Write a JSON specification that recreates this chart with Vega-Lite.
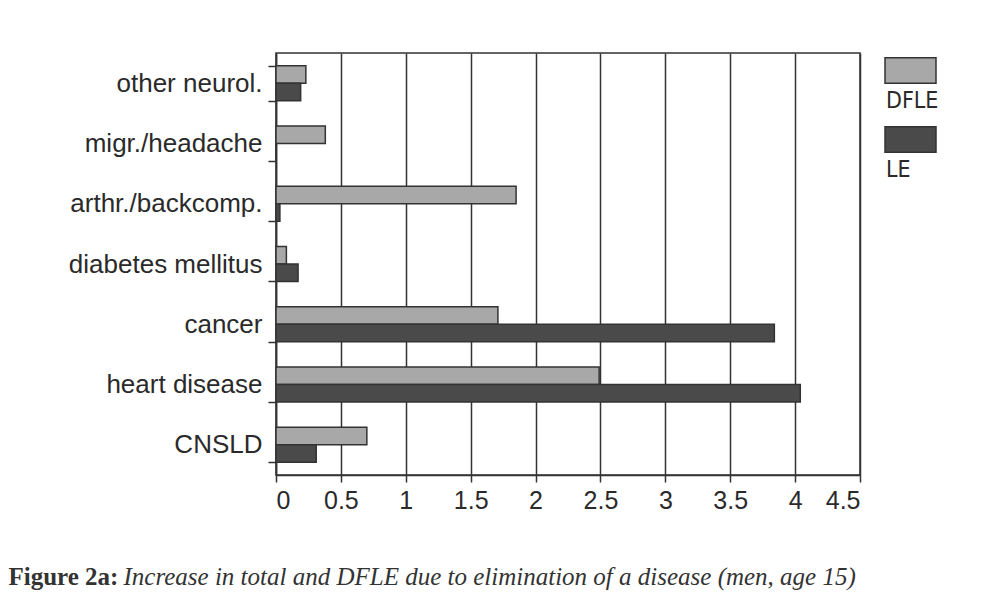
{
  "$schema": "https://vega.github.io/schema/vega-lite/v6.json",
  "width": 584,
  "height": 422,
  "autosize": {"type": "none"},
  "padding": {"left": 276, "top": 53, "right": 137, "bottom": 119},
  "background": "white",
  "config": {
    "view": {"stroke": "#333333", "strokeWidth": 1.5}
  },
  "data": {
    "values": [
      {"disease": "other neurol.", "measure": "DFLE", "value": 0.23},
      {"disease": "other neurol.", "measure": "LE", "value": 0.19},
      {"disease": "migr./headache", "measure": "DFLE", "value": 0.38},
      {"disease": "migr./headache", "measure": "LE", "value": 0.0},
      {"disease": "arthr./backcomp.", "measure": "DFLE", "value": 1.85},
      {"disease": "arthr./backcomp.", "measure": "LE", "value": 0.03},
      {"disease": "diabetes mellitus", "measure": "DFLE", "value": 0.08},
      {"disease": "diabetes mellitus", "measure": "LE", "value": 0.17},
      {"disease": "cancer", "measure": "DFLE", "value": 1.71},
      {"disease": "cancer", "measure": "LE", "value": 3.84},
      {"disease": "heart disease", "measure": "DFLE", "value": 2.49},
      {"disease": "heart disease", "measure": "LE", "value": 4.04},
      {"disease": "CNSLD", "measure": "DFLE", "value": 0.70},
      {"disease": "CNSLD", "measure": "LE", "value": 0.31}
    ]
  },
  "mark": {"type": "bar", "stroke": "#333333", "strokeWidth": 1.5},
  "encoding": {
    "y": {
      "field": "disease",
      "type": "nominal",
      "sort": ["other neurol.", "migr./headache", "arthr./backcomp.", "diabetes mellitus", "cancer", "heart disease", "CNSLD"],
      "scale": {"paddingInner": 0.42, "paddingOuter": 0.21},
      "axis": {
        "title": "Figure 2a:",
        "titleFont": "Liberation Serif",
        "titleFontSize": 25,
        "titleFontWeight": "bold",
        "titleColor": "#333333",
        "titleAngle": 0,
        "titleAlign": "left",
        "titleBaseline": "alphabetic",
        "titleX": -268,
        "titleY": 531,
        "domain": true,
        "domainColor": "#333333",
        "domainWidth": 1.5,
        "ticks": true,
        "tickBand": "extent",
        "tickSize": 8,
        "tickColor": "#333333",
        "tickWidth": 1.5,
        "labelFont": "Liberation Sans",
        "labelFontSize": 26,
        "labelColor": "#2a2a2a",
        "labelPadding": 6,
        "labelLimit": 0,
        "grid": false
      }
    },
    "x": {
      "field": "value",
      "type": "quantitative",
      "scale": {"domain": [0, 4.5], "nice": false},
      "axis": {
        "values": [0, 0.5, 1, 1.5, 2, 2.5, 3, 3.5, 4, 4.5],
        "format": ".2~f",
        "title": "Increase in total and DFLE due to elimination of a disease (men, age 15)",
        "titleFont": "Liberation Serif",
        "titleFontSize": 25,
        "titleFontStyle": "italic",
        "titleFontWeight": "normal",
        "titleColor": "#333333",
        "titleAnchor": "start",
        "titleAlign": "left",
        "titleBaseline": "alphabetic",
        "titleX": -153,
        "titleY": 109,
        "grid": true,
        "gridColor": "#333333",
        "gridWidth": 1.5,
        "gridOpacity": 1,
        "domain": true,
        "domainColor": "#333333",
        "domainWidth": 1.5,
        "ticks": true,
        "tickSize": 7,
        "tickColor": "#333333",
        "tickWidth": 1.5,
        "labelFont": "Liberation Sans",
        "labelFontSize": 25,
        "labelColor": "#2a2a2a",
        "labelPadding": 6
      }
    },
    "yOffset": {
      "field": "measure",
      "type": "nominal",
      "sort": ["DFLE", "LE"],
      "scale": {"paddingInner": 0, "paddingOuter": 0}
    },
    "fill": {
      "field": "measure",
      "type": "nominal",
      "scale": {"domain": ["DFLE", "LE"], "range": ["#a8a8a8", "#4a4a4a"]},
      "legend": {
        "title": null,
        "orient": "none",
        "legendX": 608,
        "legendY": -9,
        "padding": 0,
        "symbolType": "M-1,-0.5H1V0.5H-1Z",
        "symbolSize": 2601,
        "symbolStrokeColor": "#333333",
        "symbolStrokeWidth": 1.5,
        "symbolOpacity": 1,
        "labelFont": "'DejaVu Sans Condensed', 'Liberation Sans', sans-serif",
        "labelFontSize": 23,
        "labelColor": "#2a2a2a",
        "labelOffset": 0,
        "labelBaseline": "middle",
        "rowPadding": 0,
        "encode": {
          "labels": {"update": {"dx": {"value": -51}, "dy": {"value": 30}}}
        }
      }
    }
  }
}
